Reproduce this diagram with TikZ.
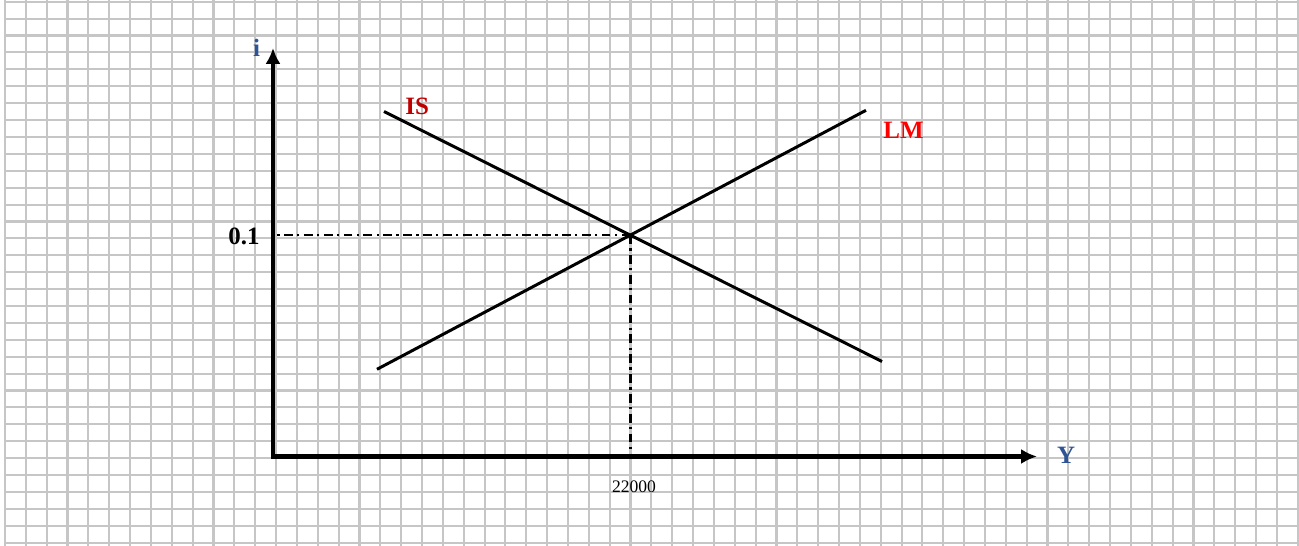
\documentclass[tikz,border=0pt]{standalone}
\usepackage{fontspec}
\setmainfont{Liberation Serif}
\usetikzlibrary{arrows.meta}
\definecolor{bleuaxe}{RGB}{47,84,150}
\definecolor{rougeIS}{RGB}{192,0,0}
\begin{document}
\begin{tikzpicture}[x=0.02cm, y=-0.02cm, >={Latex[length=9pt,width=8.5pt]},
  grille/.style={draw=gray!45, line width=1.2pt},
  axe/.style={line width=2.3pt},
  courbe/.style={line width=1.7pt},
  repere/.style={line width=1.4pt, dash pattern=on 5pt off 2.5pt on 1.3pt off 2.5pt},
  etiq/.style={inner sep=0pt, font=\fontsize{14.2}{17}\selectfont\bfseries}]
\fill[white] (0,0) rectangle (1299,546);
\useasboundingbox (0,0) rectangle (1299,546);
% Quadrillage
\foreach \k in {0,...,62} \draw[grille] ({5+20.85*\k},0) -- ({5+20.85*\k},546);
\foreach \k in {0,...,32} \draw[grille] (5,{1.7+16.906*\k}) -- (1299,{1.7+16.906*\k});
% Axes
\coordinate (O) at (273,456.5);
\coordinate (itop) at (273,48);
\coordinate (yend) at (1037,456.5);
\draw[axe, <->] (itop) -- (O) -- (yend);
\node[etiq, text=bleuaxe, anchor=base] (ilab) at (256.7,56.5) {i};
\node[etiq, text=bleuaxe, anchor=base] (ylab) at (1066,464) {Y};
% Courbes IS et LM
\coordinate (isA) at (384,111.5);
\coordinate (isB) at (882,361.5);
\coordinate (lmA) at (377,369.3);
\coordinate (lmB) at (866,110.3);
\draw[courbe] (isA) -- (isB);
\draw[courbe] (lmA) -- (lmB);
\node[etiq, text=rougeIS, anchor=base west] (islab) at (405,115) {IS};
\node[etiq, text=red, anchor=base west] (lmlab) at (883,138.3) {LM};
% Equilibre
\coordinate (E) at (intersection of isA--isB and lmA--lmB);
\draw[repere] (E) -- (O |- E);
\draw[repere] (E) -- (E |- O);
\node[etiq, anchor=base east] (ilev) at (260,245) {0.1};
\node[inner sep=0pt, anchor=base, font=\fontsize{10}{12}\selectfont] (ylev) at (634,492.7) {22000};
\end{tikzpicture}
\end{document}
